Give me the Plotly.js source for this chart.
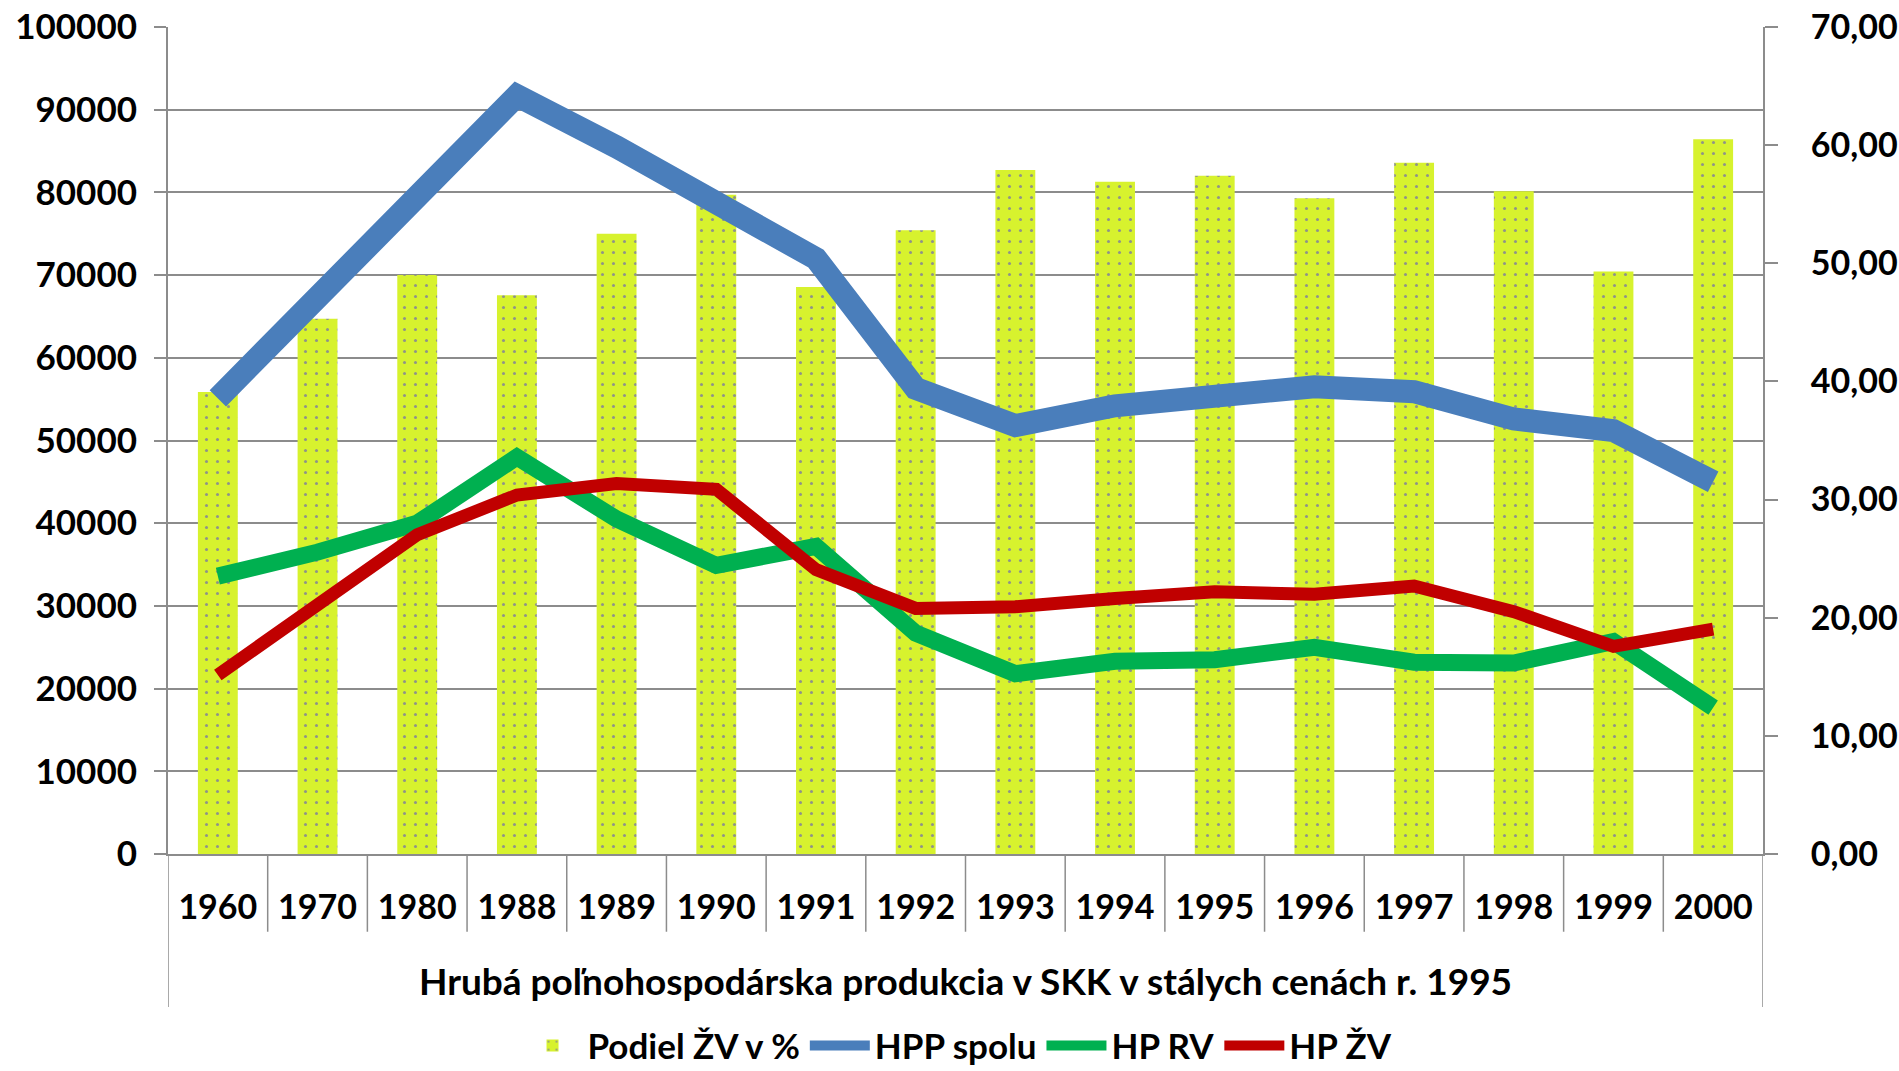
<!DOCTYPE html>
<html>
<head>
<meta charset="utf-8">
<script src="https://cdn.plot.ly/plotly-3.0.1.min.js"></script>
<style>
html,body{margin:0;padding:0;background:#fff;}
#chart{width:1899px;height:1071px;}
</style>
</head>
<body>
<div id="chart"></div>
<script>
// Data
const years = ["1960","1970","1980","1988","1989","1990","1991","1992","1993","1994","1995","1996","1997","1998","1999","2000"];
const podielZV = [39.1, 45.3, 49.0, 47.3, 52.5, 55.8, 48.0, 52.8, 57.9, 56.9, 57.4, 55.5, 58.5, 56.1, 49.3, 60.5];
const hppSpolu = [55100, 67200, 79000, 91700, 85500, 78800, 72000, 56300, 51800, 54200, 55500, 56500, 55900, 52600, 51200, 45000];
const hpRV = [33600, 36500, 40000, 48000, 40500, 34900, 37200, 26700, 21800, 23300, 23500, 25000, 23200, 23100, 25700, 17700];
const hpZV = [21650, 30350, 38600, 43400, 44800, 44100, 34400, 29700, 29900, 30900, 31700, 31400, 32400, 29300, 25100, 27200];

const seriesNames = ["Podiel ŽV v %", "HPP spolu", "HP RV", "HP ŽV"];
const xTitle = "Hrubá poľnohospodárska produkcia v SKK v stálych cenách r. 1995";

const FONT = "Lato, 'Open Sans', sans-serif";
const GRID = "#8c8c8c";

const traces = [
  {
    type: "bar", name: seriesNames[0], x: years, y: podielZV,
    xaxis: "x", yaxis: "y",
    marker: {
      color: "#D7F22E",
      line: {width: 0},
      pattern: {shape: ".", fgcolor: "#8f9488", bgcolor: "#D7F22E", size: 11, solidity: 0.06}
    },
    hoverinfo: "x+y"
  },
  {
    type: "scatter", mode: "lines", name: seriesNames[1], x: years, y: hppSpolu,
    xaxis: "x", yaxis: "y2",
    line: {color: "#4A7EBB", width: 23}
  },
  {
    type: "scatter", mode: "lines", name: seriesNames[2], x: years, y: hpRV,
    xaxis: "x", yaxis: "y2",
    line: {color: "#00B050", width: 17}
  },
  {
    type: "scatter", mode: "lines", name: seriesNames[3], x: years, y: hpZV,
    xaxis: "x", yaxis: "y2",
    line: {color: "#C00000", width: 13}
  }
];

// category divider lines below the axis (multi-level category look)
const shapes = [];
const nCat = years.length;
for (let i = 0; i <= nCat; i++) {
  const outer = (i === 0 || i === nCat);
  shapes.push({
    type: "line", xref: "x", yref: "paper",
    x0: i - 0.5, x1: i - 0.5, y0: 0, y1: outer ? -0.185 : -0.094,
    line: {color: GRID, width: 1.5}
  });
}

const layout = {
  width: 1899, height: 1071,
  paper_bgcolor: "#fff", plot_bgcolor: "rgba(0,0,0,0)",
  margin: {l: 168, r: 136, t: 27, b: 217, pad: 0, autoexpand: false},
  separators: ", ",
  font: {family: FONT, size: 34, color: "#000", weight: "bold"},
  showlegend: true,
  bargap: 0.6,
  xaxis: {
    type: "category",
    range: [-0.5, nCat - 0.5],
    showgrid: false,
    showline: true, linecolor: GRID, linewidth: 2,
    ticks: "", ticklabelstandoff: 22, tickangle: 0,
    automargin: false,
    tickfont: {family: FONT, size: 34, color: "#000", weight: "bold"},
    title: {text: xTitle, standoff: 44, font: {family: FONT, size: 37, color: "#000", weight: "bold"}},
    fixedrange: true
  },
  // right axis: percentages (bars)
  yaxis: {
    side: "right",
    range: [0, 70], dtick: 10, tick0: 0,
    tickformat: ".2f",
    showgrid: false, zeroline: false,
    showline: true, linecolor: GRID, linewidth: 2,
    ticks: "outside", ticklen: 13, tickwidth: 2, tickcolor: GRID,
    ticklabelstandoff: 26, automargin: false,
    tickfont: {family: FONT, size: 34, color: "#000", weight: "bold"},
    fixedrange: true
  },
  // left axis: values (lines), drawn above the bars
  yaxis2: {
    overlaying: "y", side: "left",
    range: [0, 100000], dtick: 10000, tick0: 0,
    tickformat: "d",
    showgrid: true, gridcolor: GRID, gridwidth: 2,
    zeroline: false,
    showline: true, linecolor: GRID, linewidth: 2,
    ticks: "outside", ticklen: 12, tickwidth: 2, tickcolor: GRID,
    ticklabelstandoff: 10, automargin: false,
    tickfont: {family: FONT, size: 35, color: "#000", weight: "bold"},
    fixedrange: true
  },
  legend: {
    orientation: "h",
    xref: "paper", x: 0.495, xanchor: "center",
    yref: "paper", y: -0.232, yanchor: "middle",
    font: {family: FONT, size: 35, color: "#000", weight: "bold"},
    itemwidth: 60,
    traceorder: "normal",
    bgcolor: "rgba(0,0,0,0)"
  },
  shapes: shapes
};

Plotly.newPlot("chart", traces, layout, {displayModeBar: false, staticPlot: true});
</script>
</body>
</html>
